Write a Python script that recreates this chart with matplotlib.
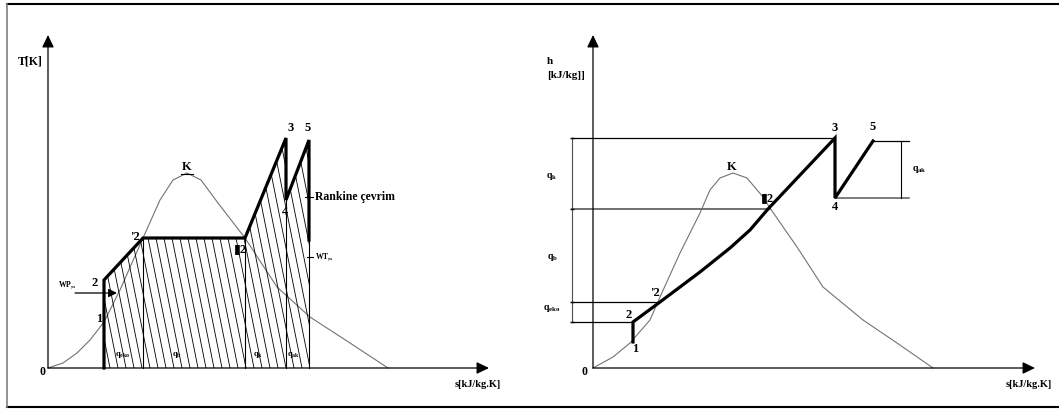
import numpy as np
import matplotlib
matplotlib.use("Agg")
import matplotlib.pyplot as plt
from matplotlib.patches import Polygon
from matplotlib.lines import Line2D

plt.rcParams["font.family"] = ["Liberation Serif", "DejaVu Sans"]
plt.rcParams["font.weight"] = "bold"
plt.rcParams["mathtext.default"] = "regular"

# ---- left panel: T-s diagram (schematic units) ----
dome_s = [0, 1.5, 2.9, 4.2, 5.6, 7.2, 9.5, 11.2, 12.5, 13.9, 15.3, 17.0, 19.7, 22.9, 26.2, 30.2, 34.0]
dome_T = [0, 0.5, 1.5, 2.8, 4.6, 7.8, 13.0, 16.8, 18.8, 19.5, 18.8, 16.5, 13.0, 8.1, 5.1, 2.5, 0]

cyc_s = [5.6, 5.6, 9.5, 19.7, 23.8, 23.8, 26.1, 26.1]
cyc_T = [0, 8.8, 13.0, 13.0, 23.0, 16.8, 22.8, 12.8]

div_s = [9.5, 19.7, 23.8, 26.1]
div_T = [13.0, 13.0, 16.8, 12.8]

ts_points = ["2", "1", "'2", "\u25ae2", "3", "5", "4", "K"]
ts_pt_s = [4.7, 5.1, 8.7, 19.2, 24.3, 26.0, 23.7, 13.9]
ts_pt_T = [8.5, 4.9, 13.1, 11.9, 24.0, 24.0, 15.6, 20.1]

q_labels = ["q$_{eko}$", "q$_b$", "q$_k$", "q$_{ak}$"]
ts_q_s = [7.5, 12.9, 21.0, 24.5]

# ---- right panel: h-s diagram ----
hdome_s = [0, 2.0, 3.7, 5.7, 6.7, 8.7, 10.7, 11.7, 12.7, 14.0, 15.4, 17.0, 17.7, 20.4, 23.0, 27.0, 30.4, 34.0]
hdome_h = [0, 1.1, 2.5, 4.8, 7.1, 11.5, 15.5, 17.8, 19.0, 19.5, 19.0, 17.1, 16.0, 12.1, 8.1, 4.8, 2.5, 0]

hcyc_s = [4.0, 4.0, 6.7, 10.7, 13.7, 15.7, 17.5, 24.2, 24.2, 28.0]
hcyc_h = [2.6, 4.6, 6.6, 9.6, 12.0, 13.8, 15.9, 23.0, 17.0, 22.7]

lvl_h = [23.0, 15.9, 6.6, 4.6]
lvl_end = [24.2, 17.7, 6.7, 4.0]
hs_q = ["q$_k$", "q$_b$", "q$_{eko}$"]
hs_q_h = [19.1, 11.1, 6.0]

hs_points = ["3", "5", "K", "\u25ae2", "4", "'2", "2", "1"]
hs_pt_s = [24.2, 28.0, 13.9, 17.4, 24.2, 6.2, 3.6, 4.2]
hs_pt_h = [24.0, 24.1, 20.1, 17.0, 16.1, 7.5, 5.3, 1.9]

W, H = 1059, 419
fig = plt.figure(figsize=(W / 100, H / 100), dpi=100)

# outer frame
fig.add_artist(Line2D([7 / W, 1], [1 - 4.5 / H] * 2, color="black", lw=1.5, transform=fig.transFigure))
fig.add_artist(Line2D([7 / W, 1], [1 - 407 / H] * 2, color="black", lw=1.5, transform=fig.transFigure))
fig.add_artist(Line2D([7 / W] * 2, [1 - 407 / H, 1 - 4.5 / H], color="0.5", lw=1.2, transform=fig.transFigure))


def axes_arrows(ax, xtip, ytip):
    style = dict(arrowstyle="-|>,head_length=0.75,head_width=0.36", lw=0.9, color="black",
                 shrinkA=0, shrinkB=0)
    ax.annotate("", xy=(0, ytip), xytext=(0, 0), arrowprops=style)
    ax.annotate("", xy=(xtip, 0), xytext=(0, 0), arrowprops=style)


# ================= left =================
ax1 = fig.add_axes([0, 0, 530 / W, 1])
ax1.set_xlim(-4.8, 48.2)
ax1.set_ylim(-5.1, 36.8)
ax1.axis("off")

axes_arrows(ax1, 44.1, 33.3)
ax1.plot(dome_s, dome_T, color="0.45", lw=0.8)

# hatched area under the cycle
poly = Polygon(list(zip(cyc_s + [cyc_s[-1]], cyc_T + [0])), closed=True, fill=False, lw=0)
ax1.add_patch(poly)
for x0 in np.arange(cyc_s[0] - 6, cyc_s[-1] + 1, 0.8):
    hl, = ax1.plot([x0, x0 + 0.2 * 25], [25, 0], color="black", lw=0.6)
    hl.set_clip_path(poly)

for s, t in zip(div_s, div_T):
    ax1.plot([s, s], [0, t], color="black", lw=0.8)

ax1.plot(cyc_s, cyc_T, color="black", lw=2.3, solid_joinstyle="miter")

ax1.annotate("", xy=(6.9, 7.5), xytext=(2.7, 7.5),
             arrowprops=dict(arrowstyle="-|>,head_length=0.5,head_width=0.25", lw=0.9,
                             color="black", shrinkA=0, shrinkB=0))
ax1.text(1.0, 8.3, "WP,$_s$", fontsize=5.5, ha="left", va="center")

for lab, s, t in zip(ts_points, ts_pt_s, ts_pt_T):
    ax1.text(s, t, lab, fontsize=9, ha="center", va="center")
ax1.plot([13.3, 14.5], [19.4, 19.4], color="black", lw=0.8)

ax1.plot([25.7, 26.5], [17.1, 17.1], color="black", lw=0.8)
ax1.text(26.7, 17.1, "Rankine çevrim", fontsize=8.5, ha="left", va="center")
ax1.plot([25.9, 26.5], [11.1, 11.1], color="black", lw=0.8)
ax1.text(26.7, 11.1, "WT,$_s$", fontsize=5.5, ha="left", va="center")

for lab, s in zip(q_labels, ts_q_s):
    ax1.text(s, 1.3, lab, fontsize=6, ha="center", va="center")

ax1.text(-1.8, 30.6, "T[K]", fontsize=8.5, ha="center", va="center")
ax1.text(-0.6, -0.4, "0", fontsize=8.5, ha="center", va="center")
ax1.text(43.0, -1.6, "s[kJ/kg.K]", fontsize=7.5, ha="center", va="center")

# ================= right =================
ax2 = fig.add_axes([530 / W, 0, 529 / W, 1])
ax2.set_xlim(-6.3, 46.6)
ax2.set_ylim(-5.1, 36.8)
ax2.axis("off")

axes_arrows(ax2, 44.2, 33.3)
ax2.plot(hdome_s, hdome_h, color="0.45", lw=0.8)

for h, e in zip(lvl_h, lvl_end):
    ax2.plot([-2.1, e], [h, h], color="black" if h != 15.9 else "0.4", lw=0.9 if h != 15.9 else 1.3)
ax2.plot([-2.1, -2.1], [lvl_h[-1], lvl_h[0]], color="0.3", lw=0.8)
ax2.plot([-2.1] * 4, lvl_h, ls="none", marker="_", ms=3, color="black")

ax2.plot([hcyc_s[-1], 31.6], [hcyc_h[-1]] * 2, color="black", lw=0.9)
ax2.plot([hcyc_s[-2], 31.6], [hcyc_h[-2]] * 2, color="0.35", lw=1.1)
ax2.plot([30.8, 30.8], [hcyc_h[-2], hcyc_h[-1]], color="black", lw=0.8)

ax2.plot(hcyc_s, hcyc_h, color="black", lw=2.3, solid_joinstyle="miter")

for lab, h in zip(hs_q, hs_q_h):
    ax2.text(-4.1, h, lab, fontsize=7, ha="center", va="center")
ax2.text(32.6, 19.9, "q$_{ak}$", fontsize=7, ha="center", va="center")

for lab, s, h in zip(hs_points, hs_pt_s, hs_pt_h):
    ax2.text(s, h, lab, fontsize=9, ha="center", va="center")

ax2.text(-4.6, 30.6, "h", fontsize=8, ha="left", va="center")
ax2.text(-4.6, 29.2, "[kJ/kg]]", fontsize=8, ha="left", va="center")
ax2.text(-0.8, -0.4, "0", fontsize=8.5, ha="center", va="center")
ax2.text(45.9, -1.6, "s[kJ/kg.K]", fontsize=7.5, ha="right", va="center")

fig.savefig("out.png", dpi=100)
